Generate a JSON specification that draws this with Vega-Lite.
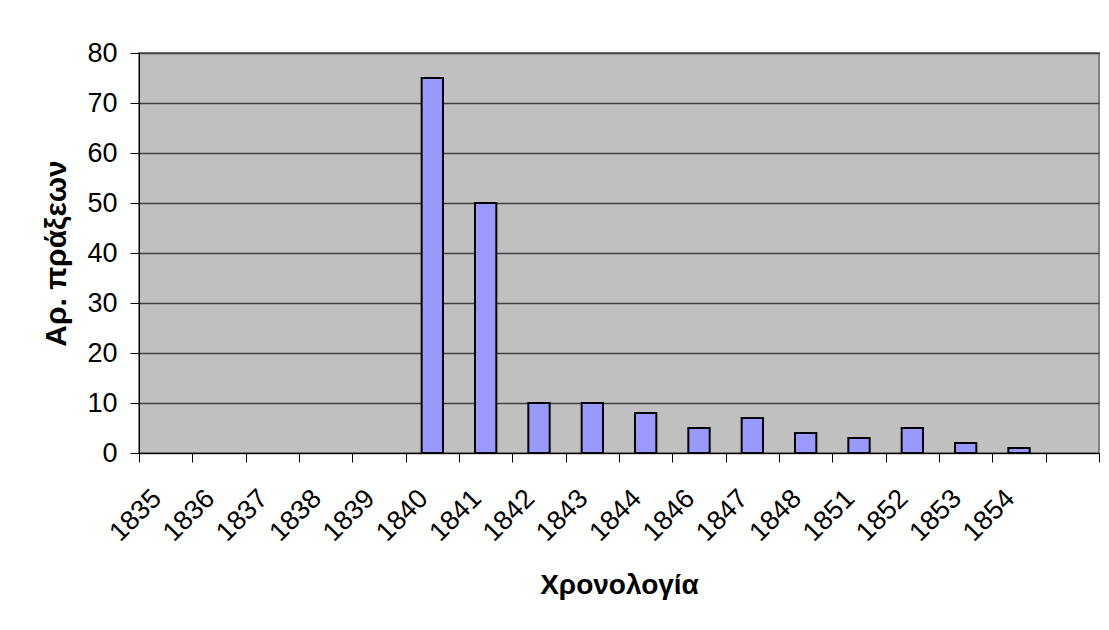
{
  "$schema": "https://vega.github.io/schema/vega-lite/v6.json",
  "width": 960,
  "height": 400,
  "autosize": {"type": "none"},
  "padding": {"left": 139, "top": 53, "right": 10, "bottom": 177},
  "background": "white",
  "config": {
    "font": "Liberation Sans",
    "view": {"fill": "#C0C0C0", "stroke": "#808080", "strokeWidth": 2},
    "axis": {"labelColor": "black", "titleColor": "black", "labelFont": "Liberation Sans", "titleFont": "Liberation Sans"}
  },
  "data": {
    "values": [
      {"year": "1835", "count": 0},
      {"year": "1836", "count": 0},
      {"year": "1837", "count": 0},
      {"year": "1838", "count": 0},
      {"year": "1839", "count": 0},
      {"year": "1840", "count": 75},
      {"year": "1841", "count": 50},
      {"year": "1842", "count": 10},
      {"year": "1843", "count": 10},
      {"year": "1844", "count": 8},
      {"year": "1846", "count": 5},
      {"year": "1847", "count": 7},
      {"year": "1848", "count": 4},
      {"year": "1851", "count": 3},
      {"year": "1852", "count": 5},
      {"year": "1853", "count": 2},
      {"year": "1854", "count": 1}
    ]
  },
  "transform": [{"filter": "datum.count > 0"}],
  "mark": {"type": "bar", "fill": "#9999FF", "stroke": "black", "strokeWidth": 2, "width": {"band": 0.4}},
  "encoding": {
    "x": {
      "field": "year",
      "type": "ordinal",
      "scale": {
        "domain": ["1835","1836","1837","1838","1839","1840","1841","1842","1843","1844","1846","1847","1848","1851","1852","1853","1854"," "],
        "paddingInner": 0,
        "paddingOuter": 0
      },
      "axis": {
        "title": "Χρονολογία",
        "titleFontSize": 28,
        "titleFontWeight": "bold",
        "titleBaseline": "alphabetic",
        "titleY": 140,
        "labelAngle": -45,
        "labelAlign": "right",
        "labelBaseline": "middle",
        "labelFontSize": 27,
        "labelPadding": 32,
        "labelOffset": -9,
        "labelOverlap": false,
        "tickBand": "extent",
        "tickSize": 9,
        "tickColor": "black",
        "tickWidth": 1,
        "domainColor": "black",
        "domainWidth": 1,
        "grid": false
      }
    },
    "y": {
      "field": "count",
      "type": "quantitative",
      "scale": {"domain": [0, 80], "nice": false},
      "axis": {
        "title": "Αρ. πράξεων",
        "titleFontSize": 30,
        "titleFontWeight": "bold",
        "titleBaseline": "alphabetic",
        "titleAngle": -90,
        "titleX": -74,
        "titleY": 200,
        "titleAlign": "center",
        "values": [0, 10, 20, 30, 40, 50, 60, 70, 80],
        "labelFontSize": 27,
        "labelPadding": 13,
        "tickSize": 9,
        "tickColor": "black",
        "domainColor": "black",
        "grid": true,
        "gridColor": "#404040",
        "gridWidth": 1.5
      }
    }
  }
}
